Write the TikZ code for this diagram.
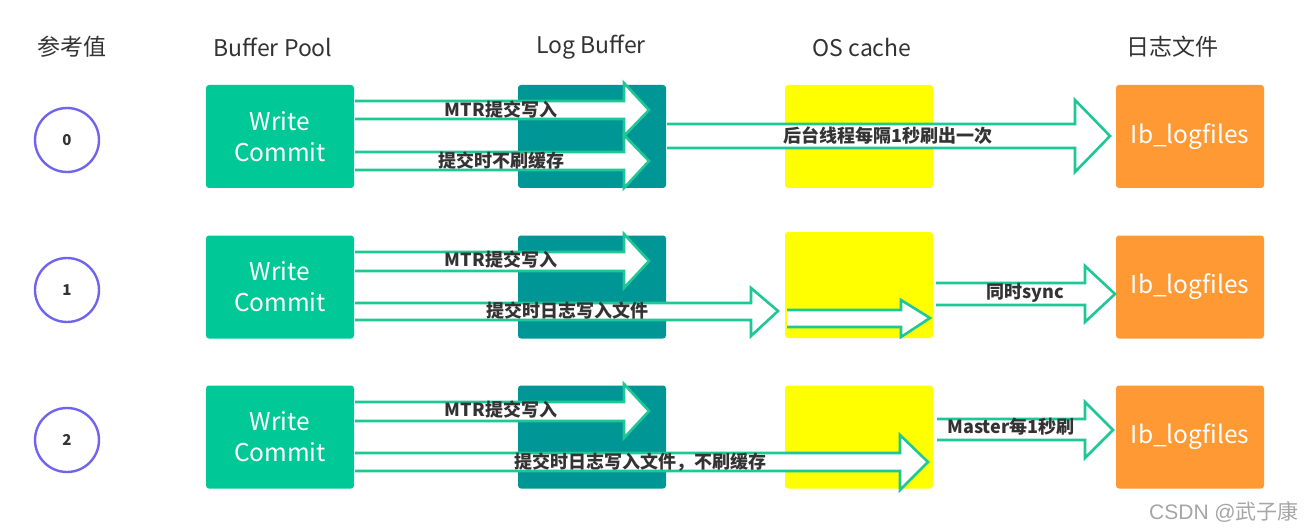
\documentclass[tikz,border=0pt]{standalone}
\usepackage{fontspec}
\setmainfont{Noto Sans CJK SC}
\newfontfamily\wmfont{Liberation Sans}
\newfontfamily\wmcjk{Noto Sans CJK SC}
\definecolor{gbox}{RGB}{0,200,150}
\definecolor{tbox}{RGB}{0,150,150}
\definecolor{ybox}{RGB}{255,255,0}
\definecolor{obox}{RGB}{255,153,51}
\definecolor{aline}{RGB}{30,200,150}
\definecolor{circ}{RGB}{110,100,240}
\definecolor{txt}{RGB}{51,51,51}
\newcommand\blkarrow[8]{%
 \fill[white] (#1,#4) -- (#2,#4) -- (#2,#6) -- (#3,#8) -- (#2,#7) -- (#2,#5) -- (#1,#5) -- cycle;
 \draw[arrline] (#1,#4) -- (#2,#4) -- (#2,#6) -- (#3,#8) -- (#2,#7) -- (#2,#5) -- (#1,#5);
}
\tikzset{
 arrline/.style={draw=aline,line width=2.6pt,line join=miter},
 boxbase/.style={minimum width=148pt,minimum height=103pt,rounded corners=3pt,inner sep=0pt,align=center,text=white,font=\fontsize{24.5}{31}\selectfont},
 bpbox/.style={boxbase,fill=gbox},
 lbbox/.style={boxbase,fill=tbox},
 osbox/.style={boxbase,fill=ybox},
 lfbox/.style={boxbase,fill=obox},
 hdr/.style={text=txt,font=\fontsize{23}{26}\selectfont,inner sep=0pt},
 numc/.style={circle,draw=circ,line width=2.4pt,minimum size=64pt,inner sep=0pt,text=txt,font=\fontsize{15}{18}\selectfont\bfseries},
 lbl/.style={text=txt,inner sep=0pt,font=\fontsize{18}{20}\selectfont\bfseries},
}
\begin{document}
\begin{tikzpicture}[x=1pt,y=-1pt]
\useasboundingbox (0,0) rectangle (1310,532);
\fill[white] (0,0) rectangle (1310,532);
% headers
\node[hdr] (h0) at (72,47) {参考值};
\node[hdr] (h1) at (273,47) {Buffer Pool};
\node[hdr] (h2) at (591,47) {Log Buffer};
\node[hdr] (h3) at (862,47) {OS cache};
\node[hdr] (h4) at (1172,47) {日志文件};
% circles
\node[numc] (c0) at (67,140) {0};
\node[numc] (c1) at (67,290) {1};
\node[numc] (c2) at (67,440) {2};
% row 0 boxes
\node[bpbox] (bp0) at (280,136.5) {Write\\Commit};
\node[lbbox] (lb0) at (592,136.5) {};
\node[osbox] (os0) at (859,136.5) {};
\node[lfbox] (lf0) at (1190,136.5) {Ib\_logfiles};
% row 1 boxes
\node[bpbox] (bp1) at (280,287) {Write\\Commit};
\node[lbbox] (lb1) at (592,287) {};
\node[osbox,minimum height=106pt] (os1) at (859,285) {};
\node[lfbox] (lf1) at (1190,287) {Ib\_logfiles};
% row 2 boxes
\node[bpbox] (bp2) at (280,437) {Write\\Commit};
\node[lbbox] (lb2) at (592,437) {};
\node[osbox] (os2) at (859,437) {};
\node[lfbox] (lf2) at (1190,437) {Ib\_logfiles};
% row 0 arrows
\blkarrow{355}{624}{649}{101}{119}{83}{136}{110}
\blkarrow{355}{624}{649}{152}{170}{135}{188}{161}
\blkarrow{667}{1075}{1110}{124}{148}{100}{172}{136}
\node[lbl] (l00) at (501,110) {MTR提交写入};
\node[lbl] (l01) at (501,161) {提交时不刷缓存};
\node[lbl] (l02) at (888,136) {后台线程每隔1秒刷出一次};
% row 1 arrows
\blkarrow{355}{624}{649}{252}{271}{234}{288}{261}
\blkarrow{355}{751}{778}{303}{320}{288}{336}{311}
\blkarrow{787}{901}{930}{310}{327}{300}{337}{318}
\blkarrow{936}{1085}{1115}{283}{305}{266}{322}{294}
\node[lbl] (l10) at (501,260) {MTR提交写入};
\node[lbl] (l11) at (567,311) {提交时日志写入文件};
\node[lbl] (l12) at (1025,293) {同时sync};
% row 2 arrows
\blkarrow{355}{624}{649}{402}{421}{384}{438}{411}
\blkarrow{355}{900}{928}{453}{471}{435}{490}{462}
\blkarrow{937}{1085}{1113}{419}{440}{402}{458}{430}
\node[lbl] (l20) at (501,410) {MTR提交写入};
\node[lbl] (l21) at (640,462) {提交时日志写入文件，不刷缓存};
\node[lbl] (l22) at (1011,427) {Master每1秒刷};
% watermark
\node[text=black!35,inner sep=0pt,font=\fontsize{21}{23}\selectfont] (wm) at (1224,512) {\wmfont CSDN @\wmcjk 武子康};
\end{tikzpicture}
\end{document}
